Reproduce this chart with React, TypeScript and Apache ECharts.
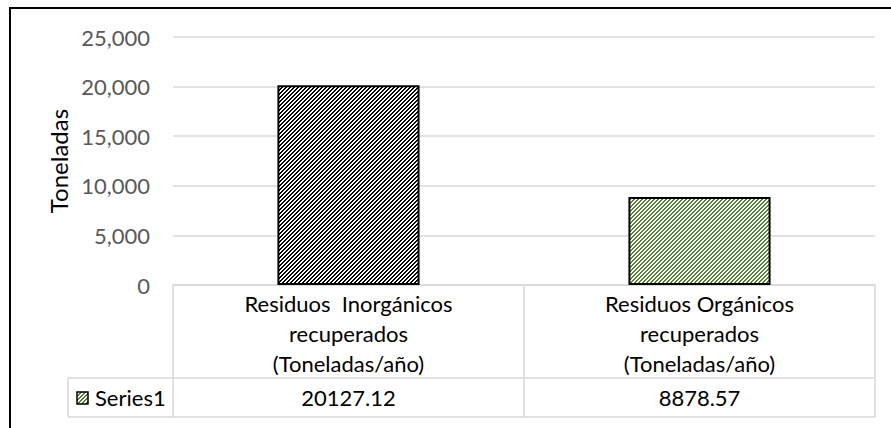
import React, { useEffect, useRef } from "react";
import * as echarts from "echarts";

// ---- data ----
const categories: string[] = [
  "Residuos  Inorgánicos\nrecuperados\n(Toneladas/año)",
  "Residuos Orgánicos\nrecuperados\n(Toneladas/año)",
];
const values: number[] = [20127.12, 8878.57];
const seriesName = "Series1";
const yAxisTitle = "Toneladas";
const yMin = 0;
const yMax = 25000;
const yInterval = 5000;

// ---- styles ----
const hatchColors = ["#000000", "#548235"];
const FONT = "Lato";
const W = 891;
const H = 428;
const GRID_LEFT = 173;
const GRID_RIGHT = 16;
const GRID_TOP = 37;
const GRID_BOTTOM = 143;
const TABLE_LINE = "#d9d9d9";

function makeHatch(color: string) {
  const c = document.createElement("canvas");
  c.width = 4;
  c.height = 4;
  const ctx = c.getContext("2d")!;
  ctx.fillStyle = "#ffffff";
  ctx.fillRect(0, 0, 4, 4);
  ctx.fillStyle = color;
  for (let y = 0; y < 4; y++) {
    for (let x = 0; x < 4; x++) {
      if ((x + y) % 4 < 2) ctx.fillRect(x, y, 1, 1);
    }
  }
  return {
    image: c.toDataURL(),
    repeat: "repeat",
    imageWidth: 4,
    imageHeight: 4,
  } as any;
}

export default function App() {
  const ref = useRef<HTMLDivElement>(null);

  useEffect(() => {
    if (!ref.current) return;
    const chart = echarts.init(ref.current, null, { renderer: "svg" });
    const patterns = hatchColors.map((c) => makeHatch(c));

    const axisBottom = H - GRID_BOTTOM; // 285
    const headerBottom = axisBottom + 93; // 378
    const tableBottom = headerBottom + 39; // 417
    const tableLeft = 68;
    const plotRight = W - GRID_RIGHT;

    const option: any = {
      animation: false,
      backgroundColor: "#ffffff",
      textStyle: { fontFamily: FONT },
      grid: {
        left: GRID_LEFT,
        right: GRID_RIGHT,
        top: GRID_TOP,
        bottom: GRID_BOTTOM,
        containLabel: false,
      },
      xAxis: [
        {
          type: "category",
          data: categories,
          position: "bottom",
          axisLine: { show: true, lineStyle: { color: TABLE_LINE, width: 1.5 } },
          axisTick: {
            show: true,
            interval: 0,
            alignWithLabel: false,
            length: tableBottom - axisBottom,
            lineStyle: { color: TABLE_LINE, width: 1.5 },
          },
          axisLabel: {
            interval: 0,
            margin: 3,
            color: "#000000",
            fontSize: 22,
            lineHeight: 30,
            fontFamily: FONT,
            verticalAlign: "top",
          },
        },
        {
          type: "category",
          data: values.map((v) => String(v)),
          position: "bottom",
          offset: headerBottom - axisBottom,
          axisLine: { show: false },
          axisTick: { show: false },
          axisLabel: {
            interval: 0,
            margin: 0,
            color: "#000000",
            fontSize: 22,
            lineHeight: 39,
            fontFamily: FONT,
            verticalAlign: "top",
          },
        },
      ],
      yAxis: {
        type: "value",
        min: yMin,
        max: yMax,
        interval: yInterval,
        name: yAxisTitle,
        nameLocation: "middle",
        nameRotate: 90,
        nameGap: 102,
        nameTextStyle: { color: "#000000", fontSize: 24, fontFamily: FONT },
        axisLine: { show: false },
        axisTick: { show: false },
        axisLabel: {
          margin: 23,
          color: "#595959",
          fontSize: 22,
          fontFamily: FONT,
          formatter: (v: number) => v.toLocaleString("en-US"),
        },
        splitLine: { show: true, lineStyle: { color: "#d9d9d9", width: 1.5 } },
      },
      series: [
        {
          name: seriesName,
          type: "bar",
          xAxisIndex: 0,
          barWidth: "40.5%",
          data: values.map((v, i) => ({
            value: v,
            itemStyle: {
              color: patterns[i],
              borderColor: "#000000",
              borderWidth: 2,
            },
          })),
        },
      ],
      graphic: [
        {
          type: "line",
          silent: true,
          shape: { x1: tableLeft, y1: headerBottom, x2: plotRight, y2: headerBottom },
          style: { stroke: TABLE_LINE, lineWidth: 1.5 },
        },
        {
          type: "line",
          silent: true,
          shape: { x1: tableLeft, y1: tableBottom, x2: plotRight, y2: tableBottom },
          style: { stroke: TABLE_LINE, lineWidth: 1.5 },
        },
        {
          type: "line",
          silent: true,
          shape: { x1: tableLeft, y1: headerBottom, x2: tableLeft, y2: tableBottom },
          style: { stroke: TABLE_LINE, lineWidth: 1.5 },
        },
        {
          type: "rect",
          silent: true,
          shape: { x: 77, y: 392, width: 11, height: 12 },
          style: { fill: patterns[1], stroke: "#000000", lineWidth: 1.5 },
        },
        {
          type: "text",
          silent: true,
          x: 95,
          y: (headerBottom + tableBottom) / 2,
          style: {
            text: seriesName,
            fill: "#000000",
            fontSize: 22,
            fontFamily: FONT,
            verticalAlign: "middle",
            align: "left",
          },
        },
        {
          type: "rect",
          silent: true,
          z: 100,
          shape: { x: 10, y: 8, width: 1000, height: 1000 },
          style: { fill: "none", stroke: "#000000", lineWidth: 2 },
        },
      ],
    };

    chart.setOption(option);
    return () => chart.dispose();
  }, []);

  return (
    <div
      ref={ref}
      style={{ position: "fixed", left: 0, top: 0, width: W, height: H }}
    />
  );
}
